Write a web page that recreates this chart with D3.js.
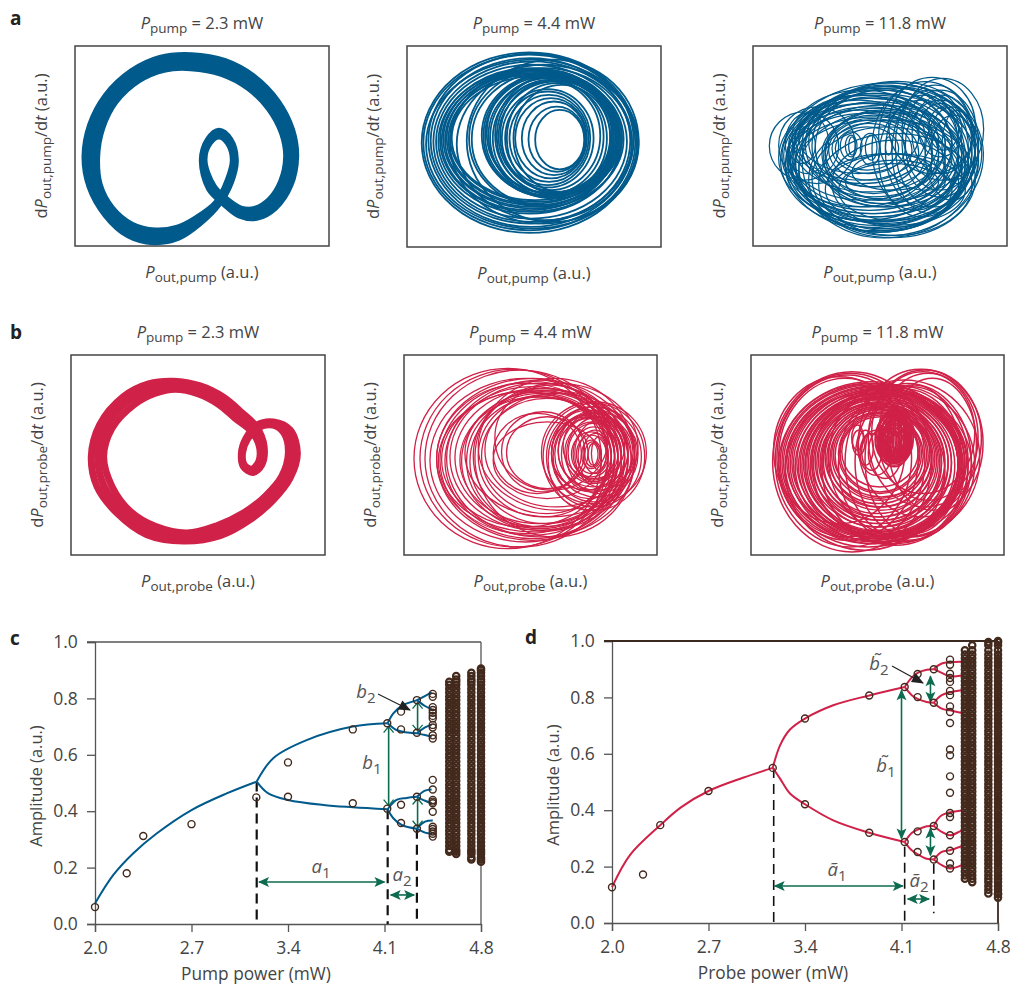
<!DOCTYPE html>
<html>
<head>
<meta charset="utf-8">
<title>Phase portraits and bifurcation</title>
<script src="https://cdn.jsdelivr.net/npm/d3@7/dist/d3.min.js"></script>
<style>
  body { margin: 0; background: #fff; }
  svg { display: block; }
  text { font-family: "Open Sans", "Noto Sans", sans-serif; fill: #444; }
  .axis path, .axis line { stroke: #555; stroke-width: 1.3; }
</style>
</head>
<body>
<div id="chart"></div>
<script>
// phase portrait strands (a.u.)
const pumpOrbitOuter = [[655,612],[600,668],[535,712],[460,725],[385,705],[318,645],[270,560],[255,470],[272,375],[318,288],[395,215],[480,175],[575,167],[675,185],[763,233],[832,305],[875,390],[887,470],[870,555],[825,622],[770,652],[718,645],[672,610],[628,565],[607,480],[625,420],[657,394],[690,420],[706,480],[692,545]];
const pumpOrbitMid = [[652,610],[595,662],[532,698],[462,709],[390,690],[326,635],[284,558],[272,470],[288,380],[331,296],[405,227],[487,191],[573,185],[670,202],[754,247],[820,315],[861,395],[873,470],[857,550],[817,611],[767,640],[721,636],[676,605],[634,562],[609,480],[626,424],[657,401],[687,424],[703,480],[688,542]];
const pumpOrbitInner = [[650,608],[590,655],[530,685],[465,693],[395,675],[335,625],[298,555],[290,470],[305,385],[345,305],[415,240],[495,207],[572,203],[665,220],[745,262],[808,325],[848,400],[860,470],[845,545],[810,600],[765,628],[725,628],[680,600],[640,560],[612,480],[628,428],[657,408],[685,428],[700,480],[685,540]];

const probeOrbitOuter = [[340,94],[420,108],[490,142],[545,188],[590,232],[612,290],[605,345],[578,368],[550,350],[544,310],[558,265],[592,225],[640,216],[690,240],[712,310],[690,385],[640,450],[570,510],[480,558],[370,574],[260,555],[170,490],[110,410],[93,320],[118,225],[190,140],[265,102]];
const probeOrbitMid = [[342,106],[417,120],[482,152],[535,196],[582,238],[605,290],[600,340],[576,363],[551,347],[545,310],[560,266],[594,228],[640,221],[681,245],[698,310],[677,382],[627,445],[560,500],[475,543],[375,562],[272,542],[190,487],[132,410],[112,320],[136,230],[205,152],[275,116]];
const probeOrbitInner = [[345,118],[415,132],[475,163],[525,205],[575,245],[598,290],[596,335],[575,358],[552,345],[547,310],[562,268],[597,232],[640,226],[672,250],[685,310],[665,380],[615,440],[550,490],[470,528],[380,550],[285,530],[210,485],[155,410],[130,320],[155,235],[220,165],[285,130]];

// single loops: left, right, top, bottom, optional tilt
const pumpLoops44 = [[405,552,210,388],[385,555,200,395],[365,558,185,405],[345,560,175,415],[328,565,165,425],[315,570,155,435],[305,580,148,442],
  [250,640,105,470],[255,630,110,465],[260,640,100,460],[265,635,115,458],[270,650,110,475],[278,640,120,470],[285,655,105,465],[295,645,125,455],[245,650,100,470],
  [207,650,90,500],[215,640,100,495],
  [115,660,90,520],[120,665,85,515],[125,650,95,510],[130,670,90,505],[135,655,100,500],[140,660,95,495],[145,650,105,490],[150,665,100,485],[155,655,110,480],
  [65,710,38,578],[70,705,45,570],[78,715,60,565],[85,700,42,560],[92,690,55,550],[100,695,65,545],[108,680,75,535],
  [200,715,60,545],[150,710,75,550],[170,695,85,540],
  [300,600,125,450],[320,620,130,460],[340,630,135,455],[290,610,120,460]];
const pumpLoops118 = [[300,335,285,350],[360,395,285,360],[345,405,280,375],[420,440,290,345],[310,330,290,345],[285,350,275,360],
  [260,480,250,400],[250,500,240,420],[240,520,235,440],[270,460,260,390],[230,540,225,460],[240,560,215,475],[235,580,210,490],
  [140,600,200,500],[125,620,190,510],[115,640,175,520],[110,655,165,530],[130,670,150,540],[100,690,160,545],[145,680,140,550],[105,700,130,560,-6],[120,710,140,570,-6],[170,715,125,585,-8],[150,690,130,575,-8],[160,700,145,592,-6],
  [72,280,215,420],[100,330,200,430],[120,250,220,400],[130,210,260,370],
  [430,690,112,400],[470,715,115,420],[400,680,125,450],[500,680,165,400],[520,650,190,350],[550,640,200,330],[480,690,180,450],[540,700,200,480],[560,690,225,420],[590,680,210,430],
  [190,690,240,592],[220,680,280,585],[200,650,260,570],[260,640,300,560],[240,660,340,555],[280,620,360,540],[250,600,340,500],[300,580,370,480],[320,560,340,450],
  [140,560,150,430],[150,540,165,420],[160,520,180,400],[170,600,160,470],[180,620,145,480],[190,580,170,440],[200,640,135,500],[210,620,150,490],[145,600,175,455],[130,580,190,480],[125,560,210,500],[135,650,185,530],[120,600,220,540],[128,660,205,555],[135,640,230,520],[150,670,195,565],[142,630,240,545],[160,650,215,575],
  [470,700,150,470],[450,690,135,500],[440,670,150,520],[420,650,165,500],[400,660,180,530],[380,640,140,510]];
const probeLoops44 = [[57,620,55,595],[75,640,58,590],[90,660,60,590],[105,680,85,575],[125,700,85,570],[135,690,95,565],[155,720,90,560],[130,710,120,545],[200,680,125,540],[215,660,130,535],[250,640,135,500],[260,650,145,490],[295,560,190,430],[320,570,185,425],[335,580,200,415],[295,620,215,445],
  [125,660,100,550],[150,670,110,555],[140,640,125,530],[165,700,100,540],[180,690,115,530],[195,670,140,520],[225,650,140,530],[235,670,115,520],[210,720,120,500],[270,700,130,470],[300,640,105,420],[240,720,85,560],[250,730,100,480],
  [440,755,155,460],[445,750,160,480],[455,740,170,470],[470,725,170,455],[480,730,185,440],[470,715,190,425],[490,700,200,410],[510,680,215,400],[520,670,220,395],[530,650,245,380],[545,635,255,370],[560,620,270,355],[570,615,275,350],[580,610,280,345],[470,680,200,420],
  [460,700,180,480],[475,690,195,445],[500,660,205,420],[490,720,180,420],[505,690,190,385],[515,710,200,430],[535,660,230,390],[540,690,210,410],[550,650,240,395],[565,640,250,370],[590,635,260,360]];
const probeLoops118 = [[390,505,190,345],[392,500,195,340],[395,505,180,335],[398,498,200,350],[400,495,185,330],[403,500,175,325],[405,490,195,338],[410,495,190,320],[412,485,170,328],[415,490,200,335],[420,482,180,315],[422,488,190,330],[428,478,185,325],[430,470,200,320],[435,465,190,335],[440,480,175,310],[445,460,195,325],[450,470,185,315],
  [400,500,205,340],[405,495,215,335],[410,490,210,330],[415,485,225,325],[420,480,220,320],[425,475,235,315],[430,470,230,310],[435,465,245,305],[440,460,240,300],[445,455,250,295],[398,492,225,332],[408,488,235,328],[418,478,245,318],[428,468,255,308],
  [322,360,240,315],[338,385,240,345],[350,410,250,360],[345,440,240,375],[370,470,230,385],[320,355,225,300],
  [82,560,65,605],[90,540,70,590],[95,520,75,570],[100,500,85,560],[85,480,80,520],
  [340,715,58,500],[370,710,60,470],[400,700,70,450],[430,695,85,480],[380,690,65,430],
  [100,640,100,590],[105,650,95,580],[110,660,100,575],[115,645,105,570],[120,655,108,580],[125,665,110,560],[130,640,112,570],[135,650,115,565],[140,660,118,555],[145,645,120,560],[150,655,122,575],[155,640,125,550],[160,650,128,565],[165,640,130,555],[170,630,132,560],[175,620,135,545],[180,640,138,550],[185,610,140,540],[190,620,142,530],[195,600,145,545],[200,610,148,520],[205,590,150,530],[210,600,155,510],[215,585,158,520],[220,575,160,500],[225,590,162,510],[230,565,165,490],[235,580,168,500],[240,560,170,470],[245,570,172,480],[250,550,175,460],[255,560,178,470],[260,545,180,450],[265,555,185,440],[270,535,188,445],[280,530,190,430],[285,525,195,425],[290,520,200,410],
  [200,690,105,580],[250,705,90,560],[300,680,100,570],[330,670,110,560],[360,650,105,550],[280,660,115,575],[230,670,120,585],[180,680,125,560],[120,600,130,600]];

// bifurcation diagrams
const powerTicks = [2.0, 2.7, 3.4, 4.1, 4.8];
const amplitudeTicks = [0.0, 0.2, 0.4, 0.6, 0.8, 1.0];

const pumpPoints = [[2.0,.06],[2.23,.18],[2.35,.312],[2.7,.354],[3.17,.449],[3.4,.573],[3.4,.451],[3.87,.69],[3.87,.428],[4.12,.712],[4.12,.409],
  [4.22,.753],[4.22,.69],[4.22,.423],[4.22,.358],[4.335,.794],[4.335,.678],[4.335,.451],[4.335,.338]];
const pumpX45 = 4.45;
const pumpY45 = [.816,.806,.769,.759,.749,.738,.729,.706,.697,.669,.658,.511,.477,.44,.434,.428,.398,.345,.337,.328,.32,.31];
const pumpColumns = [4.57, 4.62, 4.73, 4.80];
const pumpColumnLow = [.256, .248, .229, .221];
const pumpColumnHigh = [.859, .879, .891, .906];
const pumpLevels = [.221,.229,.236,.248,.256,.263,.277,.291,.304,.318,.331,.345,.358,.372,.386,.399,.413,.426,.44,.454,.467,.481,.494,.508,.522,.535,.549,.562,.576,.59,.603,.617,.63,.644,.658,.671,.685,.698,.712,.726,.739,.753,.766,.78,.794,.807,.821,.834,.848,.859,.867,.879,.891,.9,.906];
const pumpBranches = [
  [[2.0,.073],[2.133,.174],[2.278,.251],[2.447,.321],[2.70,.404],[2.955,.463],[3.173,.505]],
  [[3.173,.505],[3.293,.588],[3.535,.652],[3.87,.70],[4.123,.712]],
  [[3.173,.505],[3.257,.463],[3.40,.44],[3.656,.422],[3.87,.414],[4.123,.407]],
  [[4.123,.712],[4.164,.747],[4.236,.777],[4.335,.794],[4.442,.821]],
  [[4.123,.712],[4.187,.688],[4.252,.68],[4.335,.676]],
  [[4.123,.407],[4.187,.44],[4.26,.447],[4.335,.451]],
  [[4.123,.407],[4.164,.375],[4.225,.351],[4.335,.338]],
  [[4.335,.794],[4.394,.773],[4.442,.761]],
  [[4.335,.676],[4.394,.697],[4.442,.706]],
  [[4.335,.676],[4.394,.67],[4.442,.664]],
  [[4.335,.451],[4.394,.473],[4.442,.477]],
  [[4.335,.451],[4.394,.437],[4.442,.428]],
  [[4.335,.338],[4.394,.363],[4.45,.367]],
  [[4.335,.338],[4.394,.324],[4.442,.32]]
];

const probePoints = [[2.0,.127],[2.225,.172],[2.35,.347],[2.7,.468],[3.166,.55],[3.4,.725],[3.4,.421],[3.866,.807],[3.866,.32],[4.123,.837],[4.123,.287],
  [4.217,.883],[4.217,.801],[4.217,.325],[4.217,.252],[4.334,.90],[4.334,.781],[4.334,.344],[4.334,.225]];
const probeX45 = 4.452;
const probeY45 = [.934,.916,.884,.869,.855,.823,.808,.768,.748,.709,.615,.595,.52,.462,.39,.376,.311,.256,.211,.193];
const probeColumns = [4.56, 4.613, 4.73, 4.80];
const probeColumnLow = [.157, .145, .105, .09];
const probeColumnHigh = [.967, .985, .996, 1.0];
const probeLevels = [.09,.102,.105,.118,.131,.145,.157,.169,.183,.196,.21,.223,.237,.25,.264,.277,.291,.304,.318,.331,.345,.358,.372,.385,.399,.412,.426,.439,.453,.466,.48,.493,.507,.52,.534,.547,.561,.574,.588,.601,.615,.628,.642,.655,.669,.682,.696,.709,.723,.736,.75,.763,.777,.79,.804,.817,.831,.844,.858,.871,.885,.898,.912,.925,.939,.952,.967,.985,.996,1.0];
const probeBranches = [
  [[2.0,.127],[2.13,.241],[2.35,.347],[2.5,.41],[2.70,.468],[2.95,.515],[3.166,.55]],
  [[3.166,.55],[3.219,.63],[3.291,.686],[3.40,.725],[3.605,.772],[3.866,.807],[4.123,.837]],
  [[3.166,.55],[3.219,.512],[3.291,.459],[3.40,.421],[3.605,.364],[3.866,.32],[4.123,.287]],
  [[4.123,.837],[4.174,.87],[4.217,.887],[4.283,.898],[4.334,.90]],
  [[4.123,.837],[4.174,.808],[4.217,.795],[4.283,.784],[4.334,.781]],
  [[4.123,.287],[4.174,.319],[4.217,.331],[4.283,.343],[4.334,.344]],
  [[4.123,.287],[4.174,.258],[4.217,.244],[4.283,.228],[4.334,.225]],
  [[4.334,.90],[4.392,.92],[4.537,.926]],
  [[4.334,.90],[4.392,.887],[4.452,.875],[4.537,.878]],
  [[4.334,.781],[4.392,.808],[4.537,.825]],
  [[4.334,.781],[4.392,.76],[4.452,.754],[4.537,.745]],
  [[4.334,.344],[4.392,.382],[4.537,.399]],
  [[4.334,.344],[4.392,.323],[4.452,.311],[4.537,.329]],
  [[4.334,.225],[4.392,.252],[4.452,.258],[4.537,.272]],
  [[4.334,.225],[4.392,.205],[4.452,.193],[4.537,.205]]
];

const blue = '#005a8b', red = '#d02148', brown = '#43291c', green = '#0d6b4f';

const svg = d3.select('#chart').append('svg').attr('width', 1010).attr('height', 986);

// arrow heads
const defs = svg.append('defs');
function addMarker(id, shape, color, filled) {
  defs.append('marker').attr('id', id)
    .attr('viewBox', '-12 -6 14 12').attr('refX', 0).attr('refY', 0)
    .attr('markerUnits', 'userSpaceOnUse').attr('markerWidth', 14).attr('markerHeight', 12)
    .attr('orient', 'auto-start-reverse')
    .append('path').attr('d', shape)
    .attr('fill', filled ? color : 'none').attr('stroke', color).attr('stroke-width', filled ? 0 : 1.3);
}
addMarker('head', 'M1,0L-10,-5L-7.5,0L-10,5Z', green, true);
addMarker('open', 'M-6,-5L0,0L-6,5', green, false);
addMarker('black', 'M1,0L-11,-5L-11,5Z', '#222', true);

// text with italic and subscript pieces: [string, 'i' | 's' | 'is' | '']
function richText(sel, parts) {
  let sub = false;
  parts.forEach(([str, style]) => {
    const t = sel.append('tspan').text(str);
    if (style.includes('i')) t.style('font-style', 'italic');
    const nowSub = style.includes('s');
    if (nowSub) t.style('font-size', '0.82em');
    if (nowSub !== sub) t.attr('dy', nowSub ? '0.32em' : '-0.26em');
    sub = nowSub;
  });
  return sel;
}

function portrait(opts) {
  const { box, dom, color } = opts;
  const x = d3.scaleLinear().domain(dom.slice(0, 2)).range([box[0], box[2]]);
  const y = d3.scaleLinear().domain(dom.slice(2, 4)).range([box[1], box[3]]);
  const g = svg.append('g');

  g.append('rect')
    .attr('x', box[0]).attr('y', box[1])
    .attr('width', box[2] - box[0]).attr('height', box[3] - box[1])
    .attr('fill', '#fff').attr('stroke', '#444').attr('stroke-width', 1.5);

  const line = d3.line().x(d => x(d[0])).y(d => y(d[1])).curve(d3.curveCatmullRomClosed);
  if (opts.orbits) {
    g.selectAll('.orbit').data(opts.orbits).enter().append('path')
      .attr('class', 'orbit')
      .attr('d', line)
      .attr('fill', 'none')
      .attr('stroke', color)
      .attr('stroke-width', 7);
  }
  if (opts.loops) {
    g.selectAll('.loop').data(opts.loops).enter().append('ellipse')
      .attr('class', 'loop')
      .attr('cx', d => (x(d[0]) + x(d[1])) / 2)
      .attr('cy', d => (y(d[2]) + y(d[3])) / 2)
      .attr('rx', d => (x(d[1]) - x(d[0])) / 2)
      .attr('ry', d => (y(d[3]) - y(d[2])) / 2)
      .attr('transform', d => d[4] ? `rotate(${d[4]},${(x(d[0]) + x(d[1])) / 2},${(y(d[2]) + y(d[3])) / 2})` : null)
      .attr('fill', 'none')
      .attr('stroke', color)
      .attr('stroke-width', opts.weight);
  }

  const cx = (box[0] + box[2]) / 2;
  const cy = (box[1] + box[3]) / 2;
  const name = opts.name;
  richText(g.append('text').attr('x', cx).attr('y', box[1] - 17).attr('text-anchor', 'middle').attr('font-size', 16.5),
    [['P', 'i'], ['pump', 's'], [' = ' + opts.power + ' mW', '']]);
  richText(g.append('text').attr('x', cx).attr('y', box[3] + 32).attr('text-anchor', 'middle').attr('font-size', 16.5),
    [['P', 'i'], ['out,' + name, 's'], [' (a.u.)', '']]);
  richText(g.append('text').attr('transform', `translate(${box[0] - 28},${cy}) rotate(-90)`).attr('text-anchor', 'middle').attr('font-size', 16.5),
    [['d', ''], ['P', 'i'], ['out,' + name, 's'], ['/d', ''], ['t', 'i'], [' (a.u.)', '']]);
}

const frameA = [225, 987, 138, 738];
portrait({ box: [75, 46, 329, 246], dom: frameA, color: blue, power: '2.3', name: 'pump', orbits: [pumpOrbitOuter, pumpOrbitMid, pumpOrbitInner] });
portrait({ box: [407, 46, 661, 247], dom: [21, 782, 19, 620], color: blue, power: '4.4', name: 'pump', loops: pumpLoops44, weight: 1.8 });
portrait({ box: [753, 46, 1007, 246], dom: [23, 785, 18, 617], color: blue, power: '11.8', name: 'pump', loops: pumpLoops118, weight: 1.25 });
portrait({ box: [71, 355, 325, 555], dom: [32, 795, 15, 616], color: red, power: '2.3', name: 'probe', orbits: [probeOrbitOuter, probeOrbitMid, probeOrbitInner] });
portrait({ box: [404, 355, 657, 555], dom: [27, 787, 15, 614], color: red, power: '4.4', name: 'probe', loops: probeLoops44, weight: 1.3 });
portrait({ box: [751, 355, 1004, 555], dom: [17, 778, 15, 614], color: red, power: '11.8', name: 'probe', loops: probeLoops118, weight: 1.5 });

function bifurcation(opts) {
  const { x0, x1, y0, y1 } = opts;
  const x = d3.scaleLinear().domain([2.0, 4.8]).range([x0, x1]);
  const y = d3.scaleLinear().domain([0, 1]).range([y0, y1]);
  const g = svg.append('g');

  const xAxis = g.append('g').attr('class', 'axis').attr('transform', `translate(0,${y0})`)
    .call(d3.axisBottom(x).tickValues(powerTicks).tickFormat(d3.format('.1f')).tickSizeOuter(0).tickSize(8));
  const yAxis = g.append('g').attr('class', 'axis').attr('transform', `translate(${x0},0)`)
    .call(d3.axisLeft(y).tickValues(amplitudeTicks).tickFormat(d3.format('.1f')).tickSizeOuter(0).tickSize(8));
  g.selectAll('.axis text').attr('font-size', 17.5).attr('fill', '#444').style('font-family', '"Open Sans", sans-serif');
  xAxis.selectAll('text').attr('dy', '1.1em');
  yAxis.selectAll('text').attr('dx', '-0.35em');
  xAxis.select('.domain').attr('stroke', opts.frame);
  g.append('line').attr('x1', x0 - 8).attr('x2', x1).attr('y1', y1).attr('y2', y1).attr('stroke', opts.frame).attr('stroke-width', opts.frameWeight);
  g.append('line').attr('x1', x1).attr('x2', x1).attr('y1', y1).attr('y2', y0).attr('stroke', opts.frame).attr('stroke-width', opts.frameWeight);
  if (opts.frameWeight > 1.5) xAxis.select('.domain').attr('stroke-width', opts.frameWeight);

  g.append('text').attr('x', x0 + 161).attr('y', y0 + 56).attr('text-anchor', 'middle').attr('font-size', 17.3).text(opts.xLabel);
  g.append('text').attr('transform', `translate(${x0 - 53},${(y0 + y1) / 2 + 3}) rotate(-90)`).attr('text-anchor', 'middle').attr('font-size', 16.5).text('Amplitude (a.u.)');

  // dashed thresholds
  g.selectAll('.thr').data(opts.dashes).enter().append('line')
    .attr('x1', d => x(d[0])).attr('x2', d => x(d[0]))
    .attr('y1', d => y(d[1])).attr('y2', d => y(d[2]))
    .attr('stroke', '#111').attr('stroke-width', opts.dashWeight).attr('stroke-dasharray', '10,6');

  const line = d3.line().x(d => x(d[0])).y(d => y(d[1])).curve(d3.curveCatmullRom.alpha(0.5));
  g.selectAll('.branch').data(opts.branches).enter().append('path')
    .attr('class', 'branch').attr('d', line)
    .attr('fill', 'none').attr('stroke', opts.color).attr('stroke-width', 2);

  // green measure arrows
  g.selectAll('.arrow').data(opts.arrows).enter().append('line')
    .attr('x1', d => x(d[0])).attr('y1', d => y(d[1]))
    .attr('x2', d => x(d[2])).attr('y2', d => y(d[3]))
    .attr('stroke', green).attr('stroke-width', 1.6)
    .attr('marker-start', d => `url(#${d[4]})`).attr('marker-end', d => `url(#${d[4]})`);

  // orbit samples
  const hollow = (sel, r, w) => sel.attr('r', r).attr('fill', 'none').attr('stroke', brown).attr('stroke-width', w);
  opts.columns.forEach((cx, i) => {
    const vals = opts.levels.filter(v => v >= opts.low[i] && v <= opts.high[i]);
    g.selectAll(null).data(vals).enter().append('circle')
      .attr('cx', x(cx)).attr('cy', d => y(d)).call(hollow, 3.2, 2.2);
  });
  g.selectAll(null).data(opts.midY).enter().append('circle')
    .attr('cx', x(opts.midX)).attr('cy', d => y(d)).call(hollow, 3.5, 1.4);
  g.selectAll(null).data(opts.points).enter().append('circle')
    .attr('cx', d => x(d[0])).attr('cy', d => y(d[1])).call(hollow, 3.5, 1.4);

  // leader to the second gap
  g.append('line').attr('x1', opts.leader[0]).attr('y1', opts.leader[1]).attr('x2', opts.leader[2]).attr('y2', opts.leader[3])
    .attr('stroke', '#222').attr('stroke-width', 1.2).attr('marker-end', 'url(#black)');

  opts.notes.forEach(n => {
    richText(g.append('text').attr('x', n[0]).attr('y', n[1]).attr('text-anchor', 'middle').attr('font-size', 18.5).style('fill', '#555'),
      [[n[2], 'i'], [n[3], 's']]);
  });
}

bifurcation({
  x0: 95, x1: 481, y0: 924, y1: 642, color: blue, frame: '#555', frameWeight: 1.3, dashWeight: 2.2,
  xLabel: 'Pump power (mW)',
  points: pumpPoints, midX: pumpX45, midY: pumpY45, columns: pumpColumns, low: pumpColumnLow, high: pumpColumnHigh, levels: pumpLevels,
  branches: pumpBranches,
  dashes: [[3.173, .505, .014], [4.123, .407, 0], [4.335, .338, 0]],
  arrows: [[3.19, .149, 4.10, .149, 'head'], [4.145, .103, 4.315, .103, 'head'], [4.13, .70, 4.13, .42, 'open'], [4.34, .785, 4.34, .685, 'open'], [4.34, .445, 4.34, .345, 'open']],
  leader: [378, 694, 410, 710],
  notes: [[321, 873, 'a', '1'], [402, 881, 'a', '2'], [372, 769, 'b', '1'], [366, 698, 'b', '2']]
});

bifurcation({
  x0: 612, x1: 998, y0: 923, y1: 641, color: red, frame: '#3a2a20', frameWeight: 1.8, dashWeight: 1.6,
  xLabel: 'Probe power (mW)',
  points: probePoints, midX: probeX45, midY: probeY45, columns: probeColumns, low: probeColumnLow, high: probeColumnHigh, levels: probeLevels,
  branches: probeBranches,
  dashes: [[3.173, .55, 0], [4.123, .27, 0], [4.334, .21, .035]],
  arrows: [[3.18, .131, 4.11, .131, 'head'], [4.145, .085, 4.3, .085, 'head'], [4.10, .825, 4.10, .30, 'head'], [4.31, .875, 4.31, .785, 'head'], [4.31, .335, 4.31, .24, 'head']],
  leader: [892, 666, 923, 683],
  notes: [[837, 876, 'ã', '1'], [919, 887, 'ã', '2'], [886, 772, 'b̃', '1'], [879, 670, 'b̃', '2']]
});

// panel letters
const letters = ['a', 'b', 'c', 'd'];
const letterX = [10, 10, 10, 525];
const letterY = [25, 339, 645, 644];
svg.selectAll('.letter').data(letters).enter().append('text')
  .attr('class', 'letter')
  .attr('x', (d, i) => letterX[i]).attr('y', (d, i) => letterY[i])
  .attr('font-size', 19).attr('font-weight', 700).style('fill', '#222')
  .text(d => d);
</script>
</body>
</html>
